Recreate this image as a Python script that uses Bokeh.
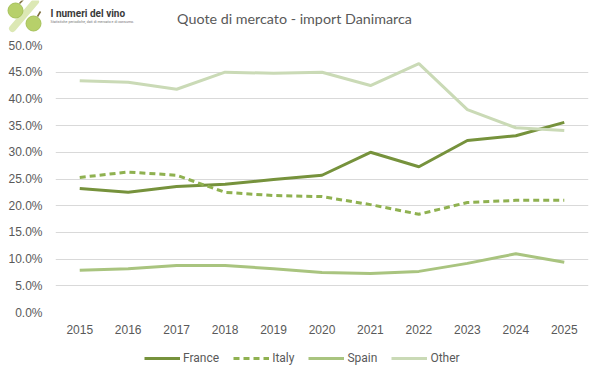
from bokeh.plotting import figure
from bokeh.layouts import column
from bokeh.models import (Range1d, FixedTicker, PrintfTickFormatter, Legend, LegendItem, Label)
from bokeh.embed import file_html
from bokeh.resources import INLINE

years = [2015, 2016, 2017, 2018, 2019, 2020, 2021, 2022, 2023, 2024, 2025]
france = [23.2, 22.5, 23.6, 24.0, 24.9, 25.7, 30.0, 27.3, 32.2, 33.1, 35.6]
italy = [25.3, 26.3, 25.7, 22.5, 21.9, 21.7, 20.2, 18.4, 20.6, 21.0, 21.0]
spain = [7.9, 8.2, 8.8, 8.8, 8.2, 7.5, 7.3, 7.7, 9.2, 11.0, 9.4]
other = [43.4, 43.1, 41.8, 45.0, 44.8, 45.0, 42.5, 46.6, 38.0, 34.6, 34.1]
series_names = ["France", "Italy", "Spain", "Other"]
y_ticks = [0, 5, 10, 15, 20, 25, 30, 35, 40, 45, 50]
title_text = "Quote di mercato - import Danimarca"
logo_text = "I numeri del vino"
logo_sub = "Statistiche periodiche, dati di mercato e di consumo."

colors = ["#76923C", "#8FB150", "#A9C47F", "#CADAB6"]
dashes = ["solid", "6 4", "solid", "solid"]
W = 601
HEAD_H, MAIN_H, FOOT_H = 37, 305, 36
all_series = [france, italy, spain, other]


def bare_fig(h, xr, yr):
    f = figure(width=W, height=h, output_backend="svg", toolbar_location=None,
               x_range=xr, y_range=yr, x_axis_location=None, y_axis_location=None,
               min_border_left=0, min_border_right=0, min_border_top=0, min_border_bottom=0)
    f.outline_line_color = None
    f.xgrid.grid_line_color = None
    f.ygrid.grid_line_color = None
    f.frame_align = False
    return f


# ---------- header: logo + title ----------
head = bare_fig(HEAD_H, Range1d(0, W), Range1d(HEAD_H, 0))
head.line([12, 35], [28, 1], line_color="#DCE8B4", line_width=7, line_cap="round")
head.scatter([15, 33], [10, 23], size=[15, 15], fill_color="#B7D06A", line_color="#A6C25A")
head.segment([19, 37], [3, 16], [23, 40], [-1, 11], line_color="#7A6A3A", line_width=1.5)
head.add_layout(Label(x=50, y=13, text=logo_text, text_align="left", text_baseline="middle",
                      text_font="Roboto", text_font_size="10px", text_font_style="bold",
                      text_color="#3A3A3A"))
head.add_layout(Label(x=50, y=21, text=logo_sub, text_align="left", text_baseline="middle",
                      text_font="Roboto", text_font_size="3.6px", text_color="#777777"))
head.add_layout(Label(x=294, y=18, text=title_text, text_align="center", text_baseline="middle",
                      text_font="Lato", text_font_size="14.3px", text_color="#595959"))

# ---------- main chart ----------
p = figure(width=W, height=MAIN_H, output_backend="svg", toolbar_location=None,
           x_range=Range1d(2014.5, 2025.5), y_range=Range1d(0, 50),
           min_border_left=55, min_border_right=13, min_border_top=8, min_border_bottom=30)
p.frame_align = False
p.outline_line_color = None
p.xaxis.ticker = FixedTicker(ticks=years)
p.yaxis.ticker = FixedTicker(ticks=y_ticks)
p.yaxis.formatter = PrintfTickFormatter(format="%.1f%%")
for ax in (p.xaxis[0], p.yaxis[0]):
    ax.axis_line_color = None
    ax.major_tick_line_color = None
    ax.minor_tick_line_color = None
    ax.major_label_text_font = "Liberation Sans"
    ax.major_label_text_font_size = "12px"
    ax.major_label_text_color = "#595959"
p.yaxis.major_label_standoff = 7
p.xaxis.major_label_standoff = 6
p.xgrid.grid_line_color = None
p.ygrid.grid_line_color = "#D9D9D9"

for vals, c, d in zip(all_series, colors, dashes):
    p.line(years, vals, line_color=c, line_width=3, line_dash=d)

# ---------- footer: legend (same series, drawn outside the footer's view) ----------
foot = bare_fig(FOOT_H, Range1d(0, W), Range1d(0, FOOT_H))
items = []
for name, vals, c, d in zip(series_names, all_series, colors, dashes):
    r = foot.line(years, vals, line_color=c, line_width=3, line_dash=d)
    items.append(LegendItem(label=name, renderers=[r]))
legend = Legend(items=items, orientation="horizontal", location=(144, 13),
                glyph_width=36, glyph_height=14, label_standoff=3, spacing=14,
                padding=0, margin=0, border_line_color=None, background_fill_alpha=0,
                label_text_font="Roboto", label_text_font_size="12px",
                label_text_color="#595959")
foot.add_layout(legend, "center")

layout = column(head, p, foot, spacing=0)
open("out.html", "w").write(file_html(layout, INLINE))
